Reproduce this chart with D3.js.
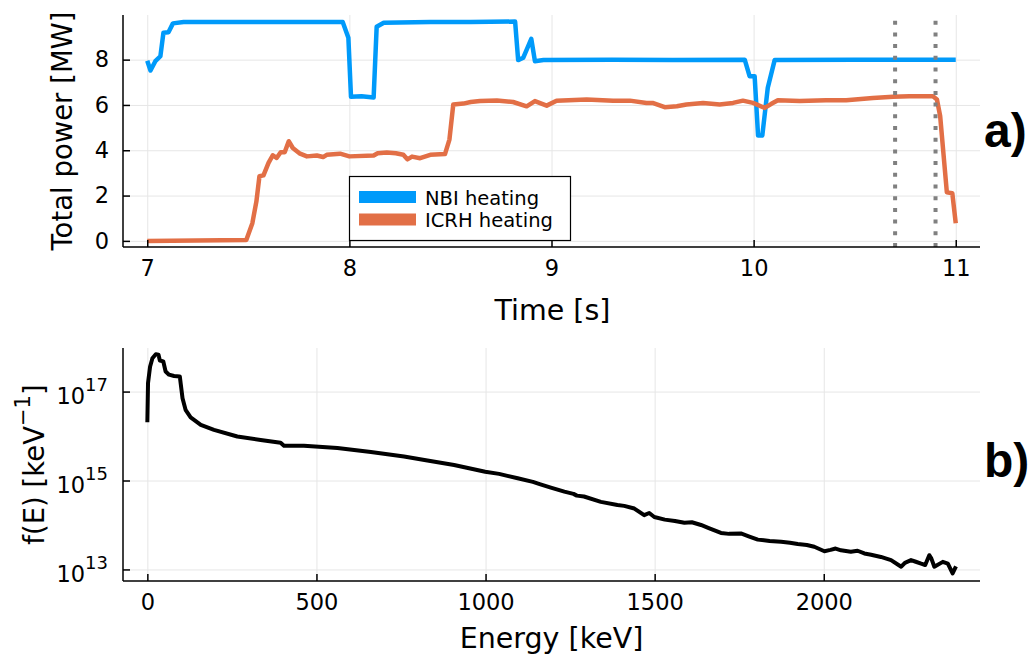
<!DOCTYPE html>
<html><head><meta charset="utf-8">
<script src="https://cdn.jsdelivr.net/npm/d3@7"></script>
<style>body{margin:0;background:#fff}svg{display:block}text{font-family:"DejaVu Sans",sans-serif}</style>
</head><body><svg id="c" width="1034" height="665"></svg>
<script>
// ---- data (panel a) ----
const nbiTime = [7.0,7.016,7.04,7.065,7.08,7.105,7.127,7.18,7.5,7.8,7.967,7.995,8.008,8.06,8.12,8.135,8.17,8.4,8.6,8.82,8.835,8.86,8.90,8.918,8.96,9.3,9.6,9.956,9.98,10.005,10.022,10.043,10.07,10.104,10.5,11.0];
const nbiPower = [7.95,7.52,7.93,8.15,9.19,9.21,9.6,9.66,9.66,9.66,9.66,8.97,6.36,6.38,6.33,9.45,9.63,9.66,9.66,9.68,7.98,8.08,8.92,7.93,7.98,7.99,7.98,8.0,7.27,7.27,4.65,4.65,6.76,7.98,8.0,8.0];
const icrhTime = [7.0,7.49,7.52,7.54,7.555,7.575,7.6,7.621,7.64,7.66,7.68,7.70,7.72,7.756,7.79,7.839,7.87,7.888,7.954,8.0,8.12,8.14,8.185,8.23,8.267,8.287,8.31,8.35,8.40,8.473,8.495,8.514,8.564,8.6,8.646,8.73,8.81,8.877,8.918,8.976,9.025,9.174,9.305,9.388,9.47,9.5,9.56,9.62,9.668,9.75,9.832,9.898,9.947,9.997,10.055,10.088,10.12,10.228,10.358,10.458,10.59,10.69,10.77,10.887,10.907,10.923,10.956,10.983,11.0];
const icrhPower = [0.0,0.04,0.78,1.74,2.85,2.89,3.44,3.78,3.66,3.91,3.91,4.4,4.1,3.85,3.73,3.77,3.7,3.8,3.85,3.73,3.77,3.87,3.9,3.87,3.8,3.6,3.72,3.65,3.8,3.83,4.47,6.02,6.06,6.13,6.17,6.2,6.13,5.94,6.17,5.97,6.19,6.24,6.19,6.19,6.09,6.09,5.9,5.94,6.02,6.09,6.02,6.09,6.19,6.09,5.87,6.05,6.21,6.17,6.21,6.21,6.31,6.36,6.38,6.38,6.24,5.5,2.14,2.1,0.78];
const markerTimes = [10.70, 10.90];
const timeTicks = [7, 8, 9, 10, 11];
const powerTicks = [0, 2, 4, 6, 8];
const seriesNames = ["NBI heating", "ICRH heating"];
// ---- data (panel b) ----
const energy = [0,2,8,15,25,33,37,47,54,64,79,96,104,113,128,158,197,266,335,394,404,463,562,661,759,828,907,999,1040,1095,1140,1160,1193,1233,1260,1270,1291,1341,1390,1410,1440,1469,1484,1499,1530,1560,1588,1610,1637,1660,1696,1720,1755,1780,1805,1840,1874,1900,1923,1950,1972,2002,2020,2035,2051,2080,2100,2120,2140,2169,2199,2229,2240,2258,2270,2288,2300,2312,2318,2327,2352,2367,2381,2391];
const fE = [2.04e16,1.55e17,3.63e17,5.62e17,6.92e17,6.76e17,5.01e17,4.79e17,2.82e17,2.40e17,2.24e17,2.19e17,7.08e16,3.89e16,2.63e16,1.78e16,1.38e16,9.77e15,8.13e15,7.08e15,6.03e15,6.03e15,5.37e15,4.37e15,3.47e15,2.82e15,2.24e15,1.58e15,1.41e15,1.12e15,9.33e14,8.32e14,6.92e14,5.62e14,5.01e14,4.57e14,4.37e14,3.31e14,2.82e14,2.69e14,2.34e14,1.66e14,1.86e14,1.51e14,1.32e14,1.23e14,1.12e14,1.15e14,1.0e14,8.51e13,6.61e13,6.31e13,6.46e13,5.50e13,4.68e13,4.37e13,4.17e13,3.98e13,3.72e13,3.55e13,3.24e13,2.57e13,2.75e13,2.95e13,2.69e13,2.51e13,2.63e13,2.29e13,2.14e13,1.91e13,1.62e13,1.15e13,1.41e13,1.62e13,1.51e13,1.35e13,1.26e13,2.09e13,1.78e13,1.15e13,1.48e13,1.35e13,8.13e12,1.17e13];
const energyTicks = [0, 500, 1000, 1500, 2000];
const fTickExp = [13, 15, 17];

const svg = d3.select("#c");
const L = 123, R = 980;
const topA = 15, botA = 247, topB = 348, botB = 581;
const gridC = "#e6e6e6";
const TICK_FS = 22.5;

function styleAxis(g, fromTo) {
  g.select(".domain").attr("d", fromTo).attr("stroke", "#000").attr("stroke-width", 1.5);
  g.selectAll("line").attr("stroke", "#000").attr("stroke-width", 1.5);
  g.selectAll("text").attr("font-size", TICK_FS).attr("fill", "#000");
}

// ---------------- Panel a ----------------
const xa = d3.scaleLinear().domain([6.88, 11.12]).range([L, R]);
const ya = d3.scaleLinear().domain([-0.27, 9.97]).range([botA, topA]);

svg.append("g").attr("transform", `translate(0,${botA})`)
  .call(d3.axisBottom(xa).tickValues(timeTicks).tickSize(-(botA - topA)).tickFormat(""))
  .call(g => { g.select(".domain").remove(); g.selectAll("line").attr("stroke", gridC).attr("stroke-width", 1); });
svg.append("g").attr("transform", `translate(${L},0)`)
  .call(d3.axisLeft(ya).tickValues(powerTicks).tickSize(-(R - L)).tickFormat(""))
  .call(g => { g.select(".domain").remove(); g.selectAll("line").attr("stroke", gridC).attr("stroke-width", 1); });

const lineA = d3.line().x(d => xa(d[0])).y(d => ya(d[1]));
svg.append("path").datum(nbiTime.map((t, i) => [t, nbiPower[i]]))
  .attr("d", lineA).attr("fill", "none").attr("stroke", "#009AFA").attr("stroke-width", 4.5).attr("stroke-linejoin", "round");
svg.append("path").datum(icrhTime.map((t, i) => [t, icrhPower[i]]))
  .attr("d", lineA).attr("fill", "none").attr("stroke", "#E26F46").attr("stroke-width", 4.5).attr("stroke-linejoin", "round");

svg.selectAll(".vm").data(markerTimes).enter().append("line")
  .attr("x1", d => xa(d)).attr("x2", d => xa(d)).attr("y1", botA).attr("y2", topA)
  .attr("stroke", "#808080").attr("stroke-width", 4).attr("stroke-dasharray", "4,7.7");

svg.append("g").attr("transform", `translate(0,${botA})`)
  .call(d3.axisBottom(xa).tickValues(timeTicks).tickSize(-7).tickPadding(13).tickFormat(d3.format("d")))
  .call(g => styleAxis(g, `M${L},0H${R}`));
svg.append("g").attr("transform", `translate(${L},0)`)
  .call(d3.axisLeft(ya).tickValues(powerTicks).tickSize(-7).tickPadding(14).tickFormat(d3.format("d")))
  .call(g => styleAxis(g, `M0,${botA}V${topA}`));

svg.append("text").attr("x", (L + R) / 2 + 1).attr("y", 320).attr("text-anchor", "middle")
  .attr("font-size", 28.5).text("Time [s]");
svg.append("text").attr("transform", `translate(72,${(topA + botA) / 2}) rotate(-90)`)
  .attr("text-anchor", "middle").attr("font-size", 27.5).text("Total power [MW]");

// legend
const lg = svg.append("g");
lg.append("rect").attr("x", 349.5).attr("y", 176.5).attr("width", 221).attr("height", 64)
  .attr("fill", "#fff").attr("stroke", "#000").attr("stroke-width", 1.2);
const lgColors = ["#009AFA", "#E26F46"];
seriesNames.forEach((n, i) => {
  const yy = 197 + i * 22.5;
  lg.append("line").attr("x1", 359).attr("x2", 416).attr("y1", yy).attr("y2", yy)
    .attr("stroke", lgColors[i]).attr("stroke-width", 12);
  lg.append("text").attr("x", 425).attr("y", yy + 7.5).attr("font-size", 19.5).text(n);
});

svg.append("text").attr("x", 984).attr("y", 147)
  .style("font-family", "'Liberation Sans', Arial, sans-serif")
  .attr("font-weight", "bold").attr("font-size", 48).text("a)");

// ---------------- Panel b ----------------
const xb = d3.scaleLinear().domain([-72, 2462]).range([L, R]);
const yb = d3.scaleLog().domain([Math.pow(10, 12.74), Math.pow(10, 17.98)]).range([botB, topB]);
const fTicks = fTickExp.map(e => Math.pow(10, e));

svg.append("g").attr("transform", `translate(0,${botB})`)
  .call(d3.axisBottom(xb).tickValues(energyTicks).tickSize(-(botB - topB)).tickFormat(""))
  .call(g => { g.select(".domain").remove(); g.selectAll("line").attr("stroke", gridC).attr("stroke-width", 1); });
svg.append("g").attr("transform", `translate(${L},0)`)
  .call(d3.axisLeft(yb).tickValues(fTicks).tickSize(-(R - L)).tickFormat(""))
  .call(g => { g.select(".domain").remove(); g.selectAll("line").attr("stroke", gridC).attr("stroke-width", 1); });

const lineB = d3.line().x(d => xb(d[0])).y(d => yb(d[1]));
svg.append("path").datum(energy.map((e, i) => [e, fE[i]]))
  .attr("d", lineB).attr("fill", "none").attr("stroke", "#000").attr("stroke-width", 4).attr("stroke-linejoin", "round");

svg.append("g").attr("transform", `translate(0,${botB})`)
  .call(d3.axisBottom(xb).tickValues(energyTicks).tickSize(-7).tickPadding(13).tickFormat(d3.format("d")))
  .call(g => styleAxis(g, `M${L},0H${R}`));
const yAxB = svg.append("g").attr("transform", `translate(${L},0)`)
  .call(d3.axisLeft(yb).tickValues(fTicks).tickSize(-7).tickPadding(15).tickFormat(""))
  .call(g => styleAxis(g, `M0,${botB}V${topB}`));
yAxB.selectAll(".tick").each(function(d, i) {
  const t = d3.select(this).append("text").attr("x", -15).attr("y", 12).attr("text-anchor", "end")
    .attr("fill", "#000").attr("font-size", TICK_FS);
  t.append("tspan").text("10");
  t.append("tspan").attr("dy", -13).attr("font-size", 18).text(String(fTickExp[i]));
});

svg.append("text").attr("x", (L + R) / 2).attr("y", 648).attr("text-anchor", "middle")
  .attr("font-size", 28.5).text("Energy [keV]");
const yl = svg.append("text").attr("transform", `translate(44,${(topB + botB) / 2}) rotate(-90)`)
  .attr("text-anchor", "middle").attr("font-size", 27.5);
yl.append("tspan").text("f(E) [keV");
yl.append("tspan").attr("dy", -14).attr("font-size", 21).text("\u22121");
yl.append("tspan").attr("dy", 14).text("]");

svg.append("text").attr("x", 984).attr("y", 477)
  .style("font-family", "'Liberation Sans', Arial, sans-serif")
  .attr("font-weight", "bold").attr("font-size", 48).text("b)");
</script></body></html>
